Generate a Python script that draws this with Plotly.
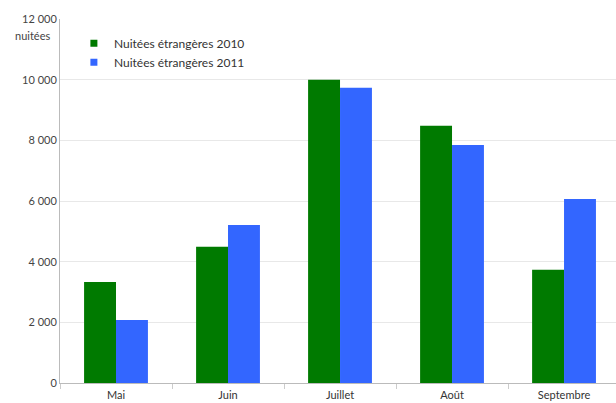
import plotly.graph_objects as go

mois = ["Mai", "Juin", "Juillet", "Août", "Septembre"]
nuitees_2010 = [3330, 4490, 10000, 8480, 3730]
nuitees_2011 = [2080, 5210, 9730, 7850, 6070]
y_ticks = [0, 2000, 4000, 6000, 8000, 10000, 12000]

series = [
    ("Nuitées étrangères 2010", nuitees_2010, "#007A00"),
    ("Nuitées étrangères 2011", nuitees_2011, "#3366FF"),
]

fig = go.Figure()
for name, values, color in series:
    fig.add_trace(go.Bar(x=mois, y=values, name=name, showlegend=False,
                         marker=dict(color=color, line=dict(width=0))))
# small square legend keys, like the original
for name, values, color in series:
    fig.add_trace(go.Scatter(x=[None], y=[None], mode="markers", name=name,
                             marker=dict(symbol="square", size=7, color=color)))

fig.update_layout(
    width=616, height=403,
    margin=dict(l=60, r=0, t=19, b=20),
    paper_bgcolor="white", plot_bgcolor="white",
    font=dict(family="Lato, Open Sans, sans-serif", size=11, color="#444"),
    separators=", ",
    barmode="group", bargap=0.43, bargroupgap=0,
    legend=dict(x=0.025, y=0.973, xanchor="left", yanchor="top",
                bgcolor="rgba(0,0,0,0)", font=dict(size=12, color="#333"),
                tracegroupgap=0),
    xaxis=dict(range=[-0.5, 4.464], showline=True, linecolor="#bbb",
               ticks="outside", tickson="boundaries", ticklen=5, tickcolor="#ccc",
               ticklabelstandoff=2,
               showgrid=False, tickfont=dict(size=11, color="#333")),
    yaxis=dict(range=[0, 12000], tickvals=y_ticks, tickformat=",d",
               showline=True, linecolor="#bbb", gridcolor="#e8e8e8",
               zeroline=False, ticks="", tickfont=dict(size=11, color="#444")),
    annotations=[dict(text="nuitées", xref="paper", yref="paper", x=-0.015, y=0.955,
                      xanchor="right", yanchor="middle", showarrow=False,
                      font=dict(size=11, color="#444"))],
)

fig.write_html("out.html", config={"displayModeBar": False},
               post_script="document.body.style.margin='0';")
